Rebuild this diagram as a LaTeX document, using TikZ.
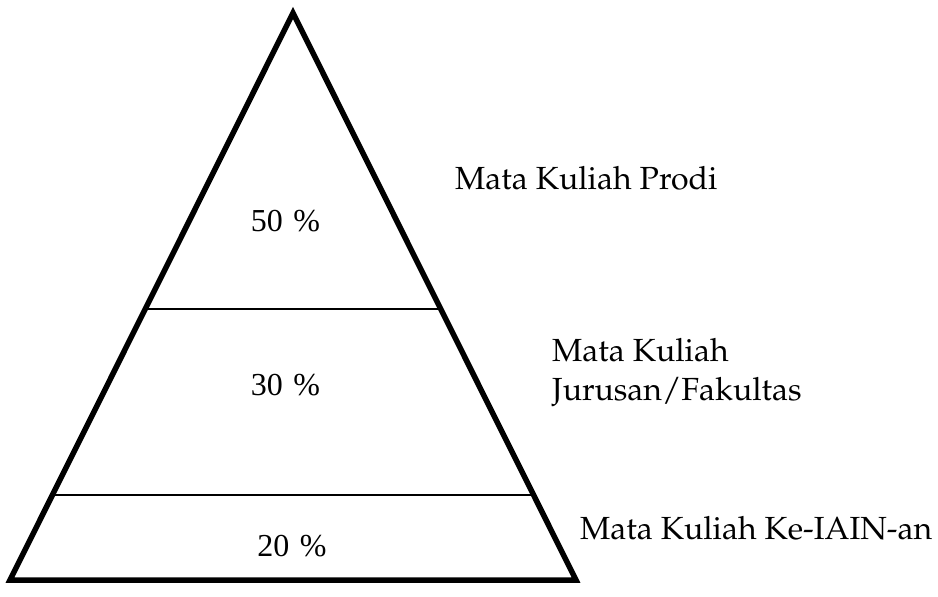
\documentclass[tikz,border=0pt]{standalone}
\usepackage[T1,TU]{fontenc}
\usepackage{fontspec}
\setmainfont{Liberation Serif}
\newcommand{\palfont}{\fontencoding{T1}\fontfamily{ppl}\selectfont}
\usetikzlibrary{calc}
\begin{document}
\begin{tikzpicture}[x=1pt,y=-1pt,
  outline/.style={line width=5.5pt,line join=miter,miter limit=20},
  divider/.style={line width=1.4pt},
  pct/.style={font=\fontsize{32}{34}\selectfont,inner sep=0pt},
  lbl/.style={font=\palfont\fontsize{32}{39}\selectfont,inner sep=0pt,anchor=west,align=left}]
\useasboundingbox (0,0) rectangle (938,597);
\coordinate (top) at (293,13);
\coordinate (bl) at (10,580);
\coordinate (br) at (576,580);
\coordinate (l1) at ($(top)!0.522!(bl)$);
\coordinate (r1) at ($(top)!0.522!(br)$);
\coordinate (l2) at ($(top)!0.850!(bl)$);
\coordinate (r2) at ($(top)!0.850!(br)$);
\draw[divider] (l1) -- (r1);
\draw[divider] (l2) -- (r2);
\draw[outline] (top) -- (bl) -- (br) -- cycle;
\node[pct] (p50) at (285.5,221) {50\hspace{0.33em}\%};
\node[pct] (p30) at (285.5,385) {30\hspace{0.33em}\%};
\node[pct] (p20) at (292,546) {20\hspace{0.33em}\%};
\node[lbl] (prodi) at (455,178) {Mata Kuliah Prodi};
\node[lbl] (jur) at (552,372) {Mata Kuliah\\Jurusan/Fakultas};
\node[lbl] (iain) at (580,528) {Mata Kuliah Ke-IAIN-an};
\end{tikzpicture}
\end{document}
